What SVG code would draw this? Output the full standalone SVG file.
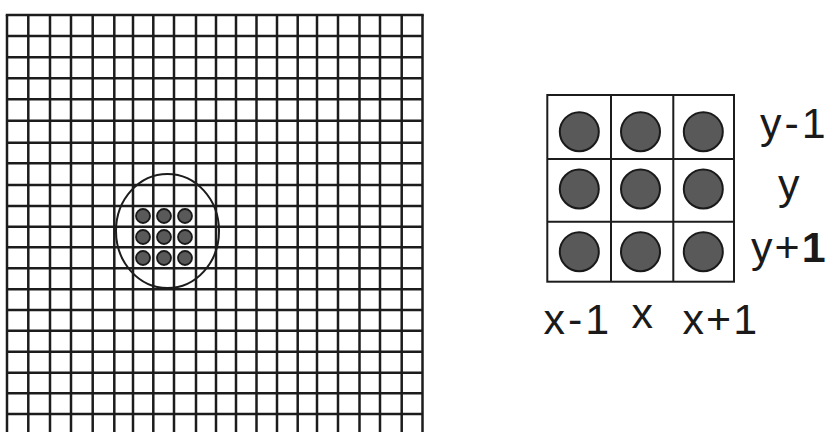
<svg xmlns="http://www.w3.org/2000/svg" width="827" height="432" viewBox="0 0 827 432">
<style>
.g{stroke:#1c1c1c;stroke-width:2.5;fill:none}
.k{stroke:#1c1c1c;stroke-width:2;fill:none}
.d{fill:#595959;stroke:#1a1a1a;stroke-width:1.8}
.D{fill:#595959;stroke:#1a1a1a;stroke-width:2}
.t{font-family:"Liberation Sans",Arial,sans-serif;font-size:43px;fill:#1a1a1a}
</style>
<rect width="827" height="432" fill="#fff"/>
<g id="big-grid" class="g">
<path d="M7 15V432M28.3 15V432M50 15V432M71 15V432M92.7 15V432M114.3 15V432M133 15V432M153.3 15V432M174 15V432M196 15V432M216 15V432M236 15V432M256.5 15V432M277 15V432M297.7 15V432M317 15V432M338 15V432M359.5 15V432M380 15V432M401.7 15V432M422.5 15V432"/>
<path d="M5.75 15H423.75M7 36H422.5M7 57.3H422.5M7 78.3H422.5M7 99.3H422.5M7 120.7H422.5M7 142.7H422.5M7 163.3H422.5M7 185H422.5M7 206H422.5M7 226.7H422.5M7 247.3H422.5M7 268.3H422.5M7 289.3H422.5M7 310H422.5M7 330.7H422.5M7 351.7H422.5M7 372.7H422.5M7 393.3H422.5M7 414H422.5"/>
</g>
<g id="lens">
<ellipse cx="167.5" cy="231" rx="51.5" ry="57" fill="none" stroke="#1c1c1c" stroke-width="2"/>
</g>
<g id="small-dots">
<circle class="d" cx="143" cy="216" r="7"/><circle class="d" cx="164" cy="216" r="7"/><circle class="d" cx="185" cy="216" r="7"/>
<circle class="d" cx="143" cy="237" r="7"/><circle class="d" cx="164" cy="237" r="7"/><circle class="d" cx="185" cy="237" r="7"/>
<circle class="d" cx="143" cy="258" r="7"/><circle class="d" cx="164" cy="258" r="7"/><circle class="d" cx="185" cy="258" r="7"/>
</g>
<g id="kernel">
<rect class="k" x="547.3" y="95" width="186.7" height="186.7"/>
<path class="k" d="M611 95V281.7M673.3 95V281.7M547.3 159H734M547.3 221.7H734"/>
<circle class="D" cx="579.3" cy="131.7" r="19.5"/><circle class="D" cx="640.5" cy="131.7" r="19.5"/><circle class="D" cx="703.3" cy="131.7" r="19.5"/>
<circle class="D" cx="579.3" cy="189" r="19.5"/><circle class="D" cx="640.5" cy="189" r="19.5"/><circle class="D" cx="703.3" cy="189" r="19.5"/>
<circle class="D" cx="579.3" cy="251.7" r="19.5"/><circle class="D" cx="640.5" cy="251.7" r="19.5"/><circle class="D" cx="703.3" cy="251.7" r="19.5"/>
</g>
<g id="labels" class="t">
<text x="760" y="138">y<tspan dx="3">-</tspan><tspan dx="3">1</tspan></text>
<text x="778" y="199">y</text>
<text x="751" y="262">y<tspan dx="2">+</tspan><tspan dx="2" font-weight="bold">1</tspan></text>
<text x="543.5" y="334">x<tspan dx="3">-</tspan><tspan dx="3">1</tspan></text>
<text x="631.5" y="328">x</text>
<text x="682.5" y="334">x<tspan dx="2">+</tspan><tspan dx="2">1</tspan></text>
</g>
</svg>
